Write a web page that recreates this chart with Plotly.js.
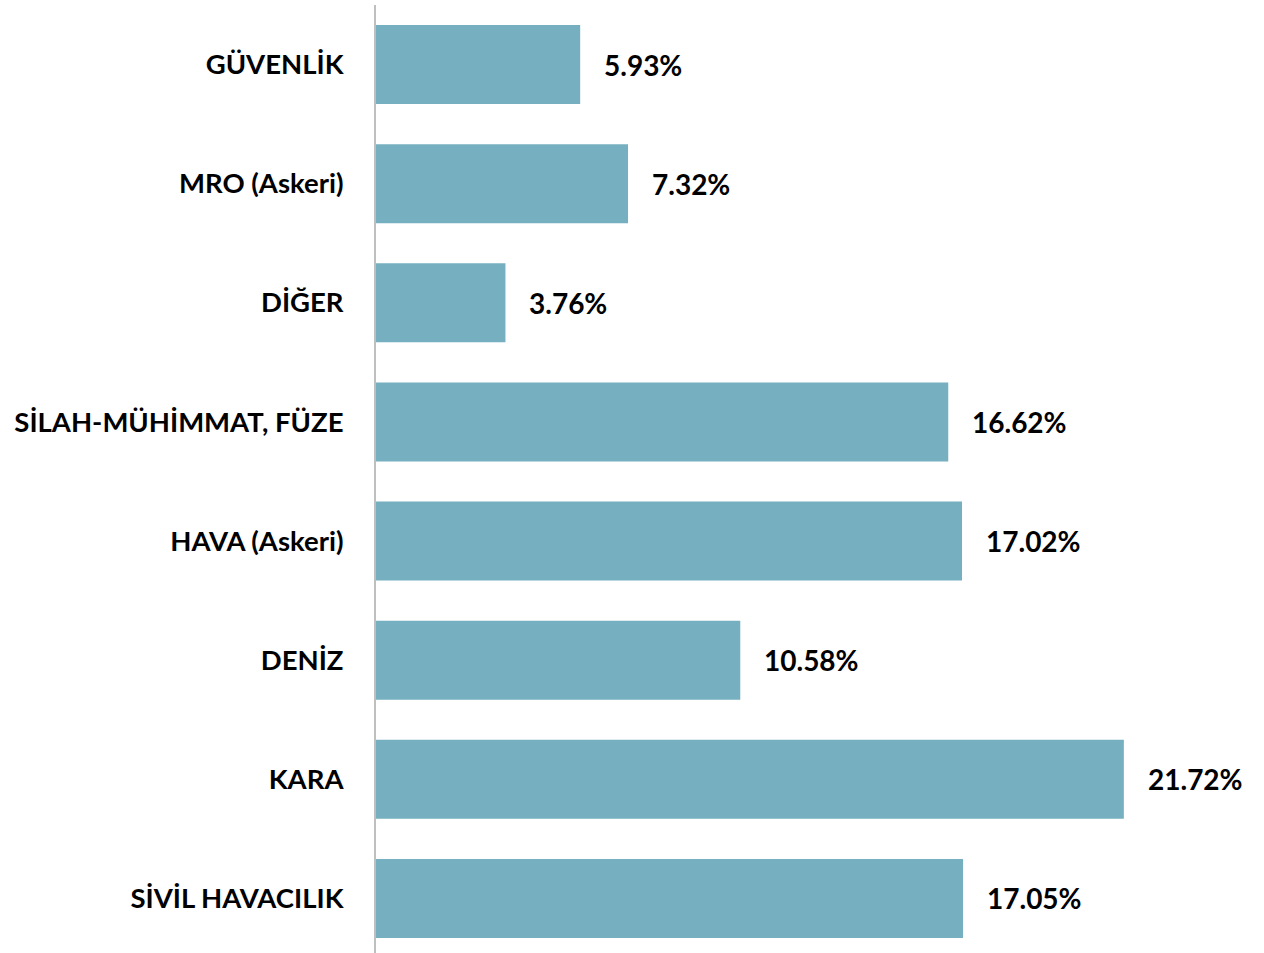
<!DOCTYPE html>
<html>
<head>
<meta charset="utf-8">
<script src="https://cdn.plot.ly/plotly-3.0.1.min.js"></script>
<style>html,body{margin:0;padding:0;overflow:hidden;background:#fff}</style>
</head>
<body>
<div id="chart" style="width:1264px;height:958px"></div>
<script>
const categories = ["GÜVENLİK","MRO (Askeri)","DİĞER","SİLAH-MÜHİMMAT, FÜZE","HAVA (Askeri)","DENİZ","KARA","SİVİL HAVACILIK"];
const values = [5.93, 7.32, 3.76, 16.62, 17.02, 10.58, 21.72, 17.05];
const valueLabels = ["5.93%","7.32%","3.76%","16.62%","17.02%","10.58%","21.72%","17.05%"];

const fontFam = "Lato, 'Open Sans', sans-serif";
const trace = {
  type: 'bar', orientation: 'h',
  x: values, y: categories,
  marker: {color: '#76b0c0'},
  hoverinfo: 'none'
};
const annotations = values.map((v, i) => ({
  x: v, y: categories[i], xref: 'x', yref: 'y',
  text: '<b>' + valueLabels[i] + '</b>',
  showarrow: false, xanchor: 'left', xshift: 22,
  font: {family: fontFam, size: 28, color: '#000'}
}));
const layout = {
  width: 1264, height: 958,
  margin: {l: 376, r: 10, t: 5, b: 0},
  paper_bgcolor: '#fff', plot_bgcolor: '#fff',
  bargap: 0.336,
  showlegend: false,
  xaxis: {range: [0, 25.5], showgrid: false, zeroline: false, showticklabels: false, showline: false, fixedrange: true},
  yaxis: {
    autorange: 'reversed', showgrid: false, zeroline: false,
    showline: true, linecolor: '#bfbfbf', linewidth: 2,
    ticks: '', ticklabelstandoff: 25,
    tickfont: {family: fontFam, size: 27.5, color: '#000', weight: 'bold'}
  },
  annotations: annotations
};
Plotly.newPlot('chart', [trace], layout, {displayModeBar: false, staticPlot: true});
</script>
</body>
</html>
